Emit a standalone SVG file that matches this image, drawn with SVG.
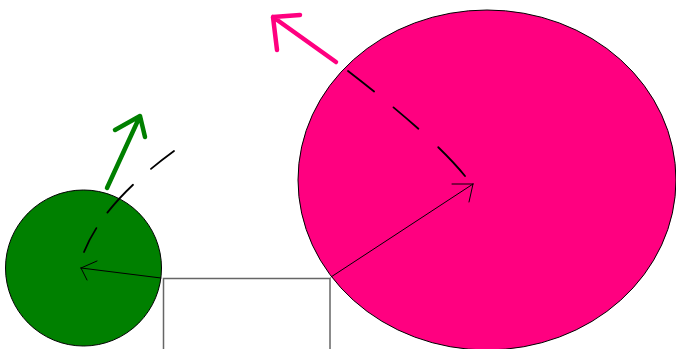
<svg xmlns="http://www.w3.org/2000/svg" width="676" height="349" viewBox="0 0 676 349">
  <style>
    .node-outline { stroke: #000; stroke-width: 1; }
    .thin { fill: none; stroke: #000; stroke-width: 1; stroke-linecap: round; }
    .dash { fill: none; stroke: #000; stroke-width: 1.8; stroke-linecap: round; }
    .vel { fill: none; stroke-width: 4.5; stroke-linecap: round; stroke-linejoin: round; }
  </style>
  <rect width="676" height="349" fill="#fff"/>
  <g id="box">
    <rect x="163.5" y="278.5" width="166.5" height="90" fill="#fff" stroke="#666" stroke-width="1.5"/>
  </g>
  <g id="pink-body">
    <ellipse cx="487" cy="180" rx="189" ry="170" fill="#FF0080" class="node-outline"/>
  </g>
  <g id="green-body">
    <circle cx="83.5" cy="268" r="78" fill="#008000" class="node-outline"/>
  </g>
  <g id="connectors">
    <path class="dash" stroke-dasharray="33 25 33 27 60" d="M348,71 Q433,136.5 465,176"/>
    <path class="dash" stroke-dasharray="29 24 38 19 60" d="M174,151 Q104,202 84,252"/>
    <path class="thin" d="M331,277 L473,184 M473,184 L452,184 M473,184 L469,202"/>
    <path class="thin" d="M161,278 L81,268 M81,268 L97,261 M81,268 L87,280"/>
    <path class="vel" stroke="#FF0080" d="M336,62 L273,17 M273,17 L300,15 M273,17 L277,50"/>
    <path class="vel" stroke="#008000" d="M107,188 L140,116 M140,116 L115,130 M140,116 L145,137"/>
  </g>
</svg>
